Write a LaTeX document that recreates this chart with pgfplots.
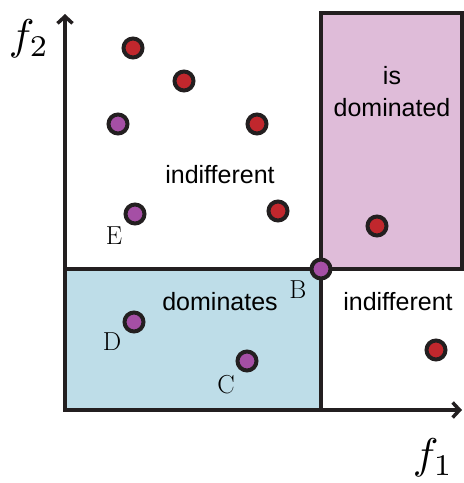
\documentclass[border=0pt]{standalone}
\usepackage{pgfplots}
\pgfplotsset{compat=1.18}
\usepackage{fontspec}
\newfontfamily\sansf{Liberation Sans}
\usetikzlibrary{arrows.meta}
\definecolor{dk}{HTML}{231F20}
\definecolor{ptred}{HTML}{C1272D}
\definecolor{ptpur}{HTML}{A54FA5}
\definecolor{pinkf}{HTML}{DFBCD9}
\definecolor{bluef}{HTML}{BEDDE8}
\begin{document}
\begin{tikzpicture}
\begin{axis}[
  width=464pt, height=483pt, scale only axis,
  xmin=0, xmax=464, ymin=0, ymax=483, y dir=reverse,
  hide axis, clip=false,
]
\path (axis cs:0,0) rectangle (axis cs:464,483);
% regions
\addplot[draw=dk, line width=4pt, fill=bluef] coordinates {(65,269) (321,269) (321,410) (65,410)} --cycle;
\addplot[draw=dk, line width=4pt, fill=pinkf] coordinates {(321,13) (462,13) (462,269) (321,269)} --cycle;
% axes
\addplot[draw=dk, line width=4pt, -{Straight Barb[length=7pt,width=15pt,line width=3.5pt]}] coordinates {(65,410) (65,14)};
\addplot[draw=dk, line width=4pt, -{Straight Barb[length=7pt,width=15pt,line width=3.5pt]}] coordinates {(63,410) (462,410)};
% points
\addplot[only marks, mark=*, mark size=9.5pt, mark options={draw=dk, line width=4pt, fill=ptred}] coordinates {
(133,48) (184,81) (257,124) (278,211) (377,226) (436,350)};
\addplot[only marks, mark=*, mark size=9.5pt, mark options={draw=dk, line width=4pt, fill=ptpur}] coordinates {
(118,124) (135,214) (134,322) (247,361) (321,269)};
% texts
\node[font=\sansf\fontsize{25}{30}\selectfont] at (axis cs:220,175) {indifferent};
\node[font=\sansf\fontsize{25}{30}\selectfont] at (axis cs:220,302) {dominates};
\node[font=\sansf\fontsize{25}{30}\selectfont] at (axis cs:398,302) {indifferent};
\node[font=\sansf\fontsize{25}{30}\selectfont, align=center] at (axis cs:392,92) {is\\[2pt]dominated};
\node[font=\fontsize{26}{30}\selectfont] at (axis cs:114,236) {E};
\node[font=\fontsize{26}{30}\selectfont] at (axis cs:112,342) {D};
\node[font=\fontsize{26}{30}\selectfont] at (axis cs:226,385) {C};
\node[font=\fontsize{26}{30}\selectfont] at (axis cs:298,290) {B};
\node[scale=4.3, inner sep=0pt] at (axis cs:29,39) {$f_2$};
\node[scale=4.3, inner sep=0pt] at (axis cs:433,458) {$f_1$};
\end{axis}
\end{tikzpicture}
\end{document}
